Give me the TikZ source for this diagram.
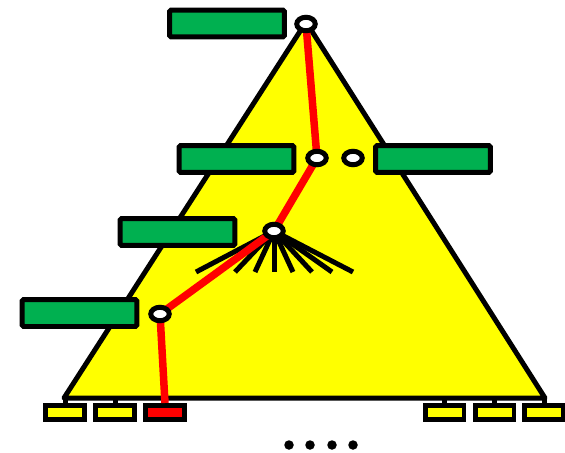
\documentclass[tikz,border=0pt]{standalone}
\usetikzlibrary{shapes.geometric}
\definecolor{tagGreen}{RGB}{0,176,80}
\definecolor{treeYellow}{RGB}{255,255,0}
\definecolor{pathRed}{RGB}{255,0,0}
\begin{document}
\begin{tikzpicture}[x=0.02cm, y=-0.02cm,
    tag/.style={draw, line width=0.1cm, fill=tagGreen, rounded corners=1pt, minimum width=2.3cm, minimum height=0.54cm, inner sep=0pt},
    hole/.style={draw, ellipse, line width=0.1cm, fill=white, minimum width=0.37cm, minimum height=0.27cm, inner sep=0pt},
    leaf/.style={draw, line width=0.1cm, fill=treeYellow, minimum width=0.78cm, minimum height=0.28cm, inner sep=0pt},
    edge/.style={line width=0.1cm},
    route/.style={line width=0.15cm, pathRed, line join=round},
  ]
  \useasboundingbox (0,0) rectangle (565,453);

  \coordinate (apex) at (306,22);
  \coordinate (bl) at (64,398);
  \coordinate (br) at (545,398);
  \filldraw[edge, fill=treeYellow, line join=round] (apex) -- (bl) -- (br) -- cycle;

  \node[leaf] (l1) at (65,412.5) {};
  \node[leaf] (l2) at (115,412.5) {};
  \node[leaf, fill=pathRed] (l3) at (165,412.5) {};
  \node[leaf] (l4) at (444.5,412.5) {};
  \node[leaf] (l5) at (494.5,412.5) {};
  \node[leaf] (l6) at (544,412.5) {};
  \foreach \l in {l1,l2,l4,l5,l6}
    \draw[edge] (\l.north) -- (\l.north |- bl);

  \coordinate (n2c) at (274,231);
  \foreach \x in {196,235,255,274,293,312,332,353}
    \draw[edge] (n2c) -- (\x,272);

  \draw[route] (306,24) -- (317,158) -- (n2c) -- (160,314) -- (l3.north);

  \node[hole] (n0) at (306,24) {};
  \node[hole] (n1) at (317,158) {};
  \node[hole] (nx) at (353,158) {};
  \node[hole] (n2) at (n2c) {};
  \node[hole] (n3) at (160,314) {};

  \node[tag] (t0) at (227,23.5) {};
  \node[tag] (t1) at (236.5,159) {};
  \node[tag] (t2) at (433,159) {};
  \node[tag] (t3) at (177.5,232) {};
  \node[tag] (t4) at (79.5,313) {};

  \foreach \x in {289,310,332,353}
    \fill (\x,445) circle [radius=0.095cm];
\end{tikzpicture}
\end{document}
